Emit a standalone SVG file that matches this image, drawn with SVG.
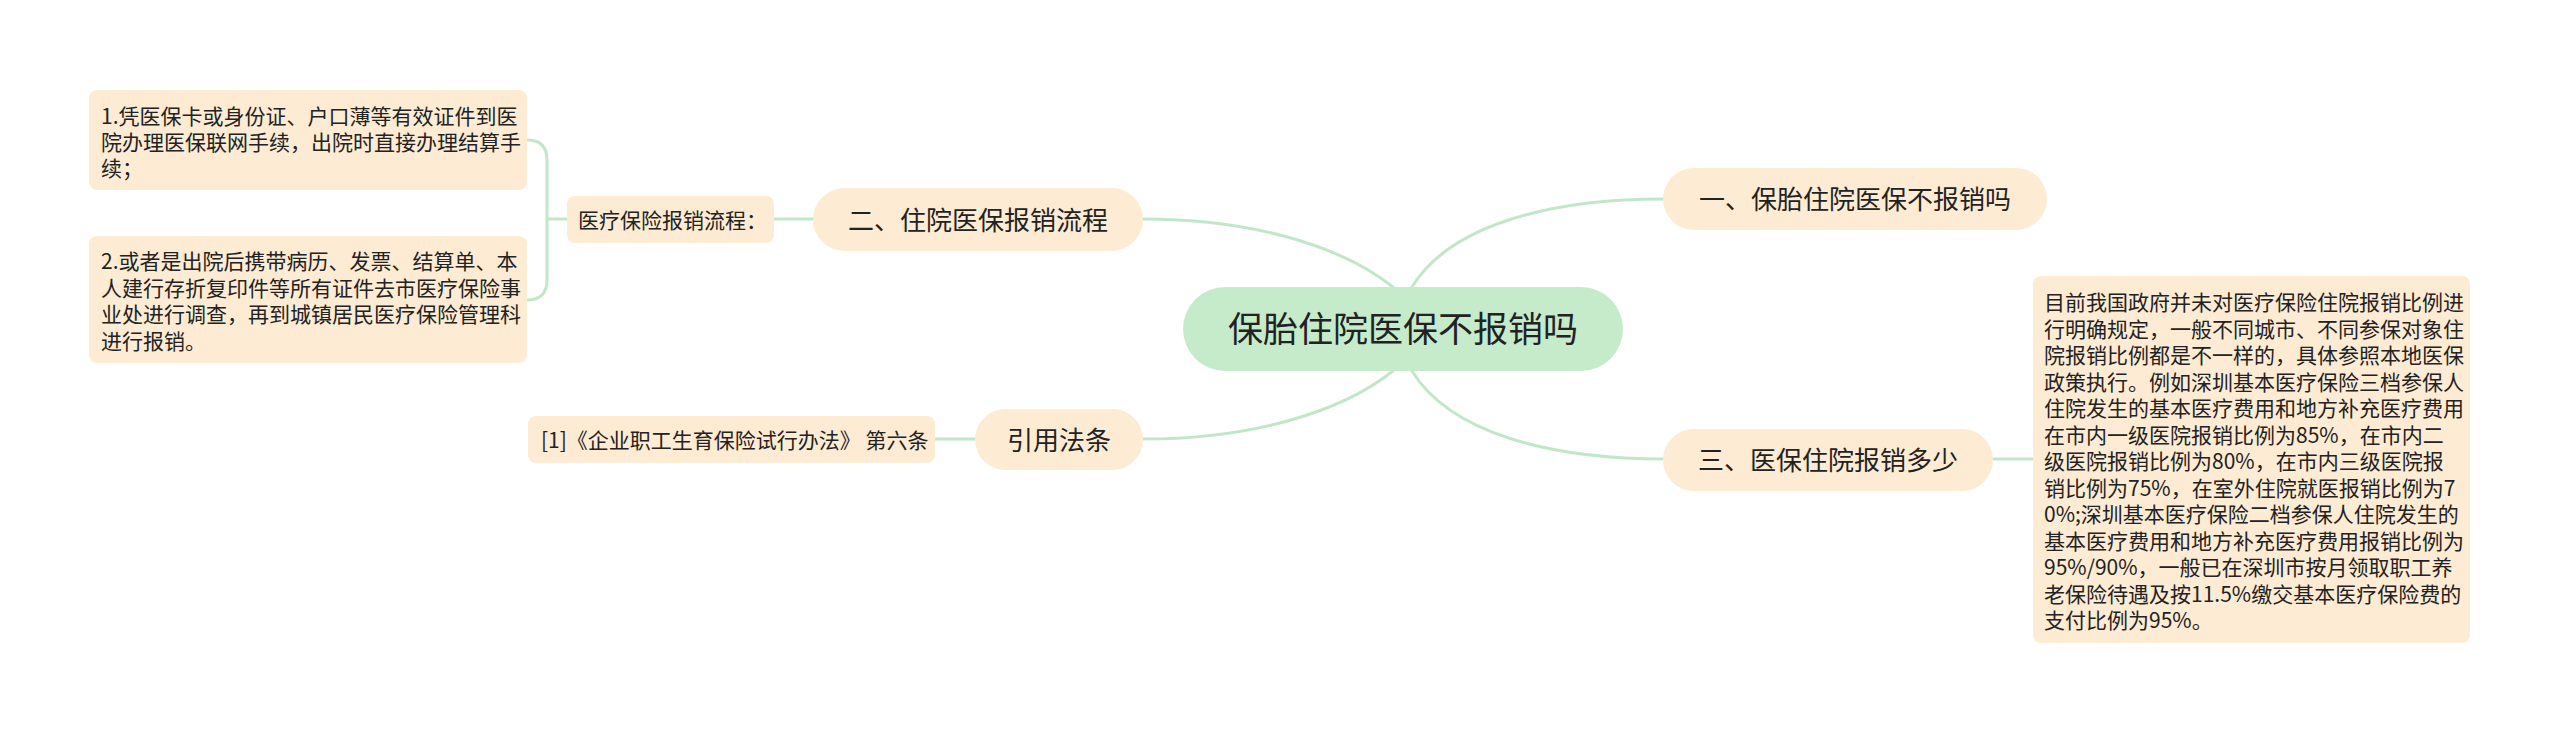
<svg xmlns="http://www.w3.org/2000/svg" width="2560" height="734" viewBox="0 0 2560 734">
<style>
.t{font-family:"Noto Sans CJK SC","Noto Sans",sans-serif;fill:#222}
.pill{fill:#fdebd3}
.box{fill:#fdebd3}
.root{fill:#c5ebcb}
.s{font-size:21px}
.m{font-size:26px}
.c{fill:none;stroke:#c2e7c8;stroke-width:3;stroke-linecap:round}
</style>
<rect width="2560" height="734" fill="#ffffff"/>
<g id="connectors">
<path class="c" d="M1143,219 C1250,219 1340,245 1393,287"/>
<path class="c" d="M1663,199 C1550,199 1450,225 1412,287"/>
<path class="c" d="M1143,439 C1250,439 1340,413 1393,371"/>
<path class="c" d="M1663,459 C1550,459 1450,433 1412,371"/>
<path class="c" d="M774,219 L813,219"/>
<path class="c" d="M935,439 L975,439"/>
<path class="c" d="M1993,459 L2033,459"/>
<path class="c" d="M527,140 Q547,140 547,160 L547,280 Q547,300 527,300"/>
<path class="c" d="M547,219 L567,219"/>
</g>
<g id="root">
<rect class="root" x="1183" y="287" width="440" height="84" rx="42"/>
<text class="t" x="1403" y="342" font-size="35" text-anchor="middle">保胎住院医保不报销吗</text>
</g>
<g id="n1">
<rect class="pill" x="1663" y="168" width="384" height="62" rx="31"/>
<text class="t m" x="1855" y="209" text-anchor="middle">一、保胎住院医保不报销吗</text>
</g>
<g id="n3">
<rect class="pill" x="1663" y="429" width="330" height="62" rx="31"/>
<text class="t m" x="1828" y="470" text-anchor="middle">三、医保住院报销多少</text>
</g>
<g id="n3-detail">
<rect class="box" x="2033" y="276" width="437" height="367" rx="8"/>
<text class="t s">
<tspan x="2044" y="310">目前我国政府并未对医疗保险住院报销比例进</tspan>
<tspan x="2044" y="336.5">行明确规定，一般不同城市、不同参保对象住</tspan>
<tspan x="2044" y="363">院报销比例都是不一样的，具体参照本地医保</tspan>
<tspan x="2044" y="389.5">政策执行。例如深圳基本医疗保险三档参保人</tspan>
<tspan x="2044" y="416">住院发生的基本医疗费用和地方补充医疗费用</tspan>
<tspan x="2044" y="442.5">在市内一级医院报销比例为85%，在市内二</tspan>
<tspan x="2044" y="469">级医院报销比例为80%，在市内三级医院报</tspan>
<tspan x="2044" y="495.5">销比例为75%，在室外住院就医报销比例为7</tspan>
<tspan x="2044" y="522">0%;深圳基本医疗保险二档参保人住院发生的</tspan>
<tspan x="2044" y="548.5">基本医疗费用和地方补充医疗费用报销比例为</tspan>
<tspan x="2044" y="575">95%/90%，一般已在深圳市按月领取职工养</tspan>
<tspan x="2044" y="601.5">老保险待遇及按11.5%缴交基本医疗保险费的</tspan>
<tspan x="2044" y="628">支付比例为95%。</tspan>
</text>
</g>
<g id="n2">
<rect class="pill" x="813" y="188" width="330" height="63" rx="31.5"/>
<text class="t m" x="978" y="229.5" text-anchor="middle">二、住院医保报销流程</text>
</g>
<g id="n2-label">
<rect class="box" x="567" y="196" width="207" height="47" rx="8"/>
<text class="t s" x="578" y="227.5">医疗保险报销流程：</text>
</g>
<g id="n2-step1">
<rect class="box" x="89" y="90" width="438" height="100" rx="8"/>
<text class="t s">
<tspan x="101" y="124">1.凭医保卡或身份证、户口薄等有效证件到医</tspan>
<tspan x="101" y="150">院办理医保联网手续，出院时直接办理结算手</tspan>
<tspan x="101" y="176">续；</tspan>
</text>
</g>
<g id="n2-step2">
<rect class="box" x="89" y="236" width="438" height="127" rx="8"/>
<text class="t s">
<tspan x="101" y="269">2.或者是出院后携带病历、发票、结算单、本</tspan>
<tspan x="101" y="295.5">人建行存折复印件等所有证件去市医疗保险事</tspan>
<tspan x="101" y="322">业处进行调查，再到城镇居民医疗保险管理科</tspan>
<tspan x="101" y="348.5">进行报销。</tspan>
</text>
</g>
<g id="n4">
<rect class="pill" x="975" y="409" width="168" height="61" rx="30.5"/>
<text class="t m" x="1059" y="449.5" text-anchor="middle">引用法条</text>
</g>
<g id="n4-detail">
<rect class="box" x="528" y="416" width="407" height="47" rx="8"/>
<text class="t s" x="541" y="447.5">[1]《企业职工生育保险试行办法》 第六条</text>
</g>
</svg>
